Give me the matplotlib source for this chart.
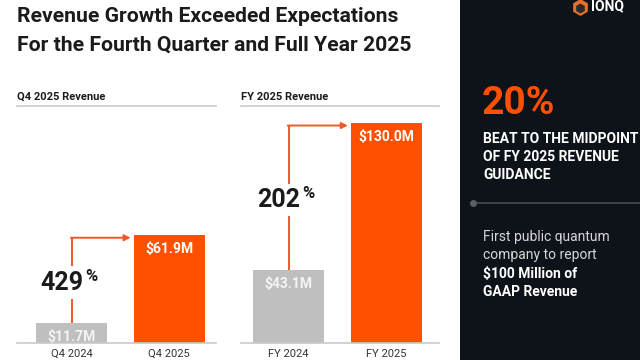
import matplotlib.pyplot as plt
from matplotlib.patches import Rectangle

plt.rcParams["font.family"] = ["Roboto", "DejaVu Sans"]

# data
q4_labels = ["Q4 2024", "Q4 2025"]
q4_values = [11.7, 61.9]
fy_labels = ["FY 2024", "FY 2025"]
fy_values = [43.1, 130.0]

ORANGE = "#fe5000"
ARROW = "#f0582a"
GREY = "#bfbfbf"
DARK = "#0e1319"
INK = "#1b1b1b"

fig = plt.figure(figsize=(6.4, 3.6), dpi=100)
fig.patch.set_facecolor("white")

W, H = 640, 360


def fx(px):
    return px / W


def fy(py):
    return 1 - py / H


# dark side panel
fig.patches.append(Rectangle((fx(460), 0), 1 - fx(460), 1, transform=fig.transFigure,
                             facecolor=DARK, edgecolor="none", zorder=0))

# title
fig.text(fx(17), fy(16), "Revenue Growth Exceeded Expectations", fontsize=15.2,
         fontweight="bold", color=INK, va="center", ha="left")
fig.text(fx(17), fy(45), "For the Fourth Quarter and Full Year 2025", fontsize=15.2,
         fontweight="bold", color=INK, va="center", ha="left")


def revenue_panel(left_px, right_px, header, labels, values, ymax, xlim):
    ax = fig.add_axes([fx(left_px), fy(343), (right_px - left_px) / W, 237 / H])
    ax.set_facecolor("none")
    ax.set_xlim(*xlim)
    ax.set_ylim(0, ymax)
    width = 0.73
    x = [0, 1]
    ax.bar(x, values, width=width, color=[GREY, ORANGE], zorder=2)
    for spine in ("left", "right"):
        ax.spines[spine].set_visible(False)
    for spine in ("top", "bottom"):
        ax.spines[spine].set_color("#c9c9c9")
        ax.spines[spine].set_linewidth(1.2)
    ax.set_yticks([])
    ax.set_xticks(x)
    ax.set_xticklabels(labels, fontsize=8, color="#333333")
    ax.tick_params(axis="x", length=0, pad=4)
    ax.annotate(header, xy=(0, 1), xycoords="axes fraction", xytext=(0, 4),
                textcoords="offset pixels", fontsize=8, fontweight="bold",
                color=INK, va="bottom", ha="left")

    # value labels
    label_colors = ["#f4f4f4", "white"]
    for xi, v, c in zip(x, values, label_colors):
        ax.annotate(f"${v:.1f}M", xy=(xi, v), xytext=(0, -14), textcoords="offset pixels",
                    ha="center", va="center", fontsize=10, fontweight="bold",
                    color=c, zorder=4)

    # growth arrow
    y_top = values[1] - 0.011 * ymax
    ax.plot([x[0], x[0]], [values[0], y_top], color=ARROW, lw=1.4, zorder=1,
            solid_capstyle="butt")
    ax.annotate("", xy=(x[1] - width / 2 - 0.03, y_top), xytext=(x[0] - 0.008, y_top),
                arrowprops=dict(arrowstyle="-|>", color=ARROW, lw=1.4,
                                mutation_scale=9, shrinkA=0, shrinkB=0), zorder=1)
    growth = round((values[1] / values[0] - 1) * 100)
    y_mid = (values[0] + y_top) / 2 - 0.01 * ymax
    ax.text(x[0] + 0.12, y_mid, f"{growth}", ha="right", va="center", fontsize=18,
            fontweight="bold", color=INK, zorder=3,
            bbox=dict(facecolor="white", edgecolor="none", pad=3))
    ax.annotate("%", xy=(x[0] + 0.12, y_mid), xytext=(2, 14), textcoords="offset pixels",
                ha="left", va="top", fontsize=12, fontweight="bold", color=INK, zorder=3)
    return ax


revenue_panel(17, 216, "Q4 2025 Revenue", q4_labels, q4_values, 136, (-0.56, 1.48))
revenue_panel(241, 439, "FY 2025 Revenue", fy_labels, fy_values, 140, (-0.485, 1.535))

# side panel content: logo
fig.add_artist(plt.Line2D([fx(580)], [fy(7)], marker="h", markersize=11, lw=0,
                          color="#e8702a"))
fig.add_artist(plt.Line2D([fx(580)], [fy(7.5)], marker="h", markersize=6, lw=0,
                          color="#2a2a2a"))
fig.text(fx(591), fy(6), "IONQ", fontsize=10, fontweight="bold", color="white",
         va="center", ha="left")

fig.text(fx(482), fy(104), "20%", fontsize=28, fontweight="bold", color=ORANGE,
         va="center", ha="left")
for i, line in enumerate(["BEAT TO THE MIDPOINT", "OF FY 2025 REVENUE", "GUIDANCE"]):
    fig.text(fx(483), fy(139 + 18 * i), line, fontsize=10, fontweight="bold",
             color="white", va="center", ha="left")

fig.add_artist(plt.Line2D([fx(473), 1], [fy(203), fy(203)], color="#474c52", lw=1.2))
fig.add_artist(plt.Line2D([fx(473)], [fy(203)], marker="o", markersize=4,
                          color="#5a5f65", lw=0))

side_lines = [("First public quantum", "normal", "#d6d6d6"),
              ("company to report", "normal", "#d6d6d6"),
              ("$100 Million of", "bold", "white"),
              ("GAAP Revenue", "bold", "white")]
for i, (line, weight, col) in enumerate(side_lines):
    fig.text(fx(483), fy(237 + 18.3 * i), line, fontsize=10, fontweight=weight,
             color=col, va="center", ha="left")

fig.savefig("out.png", dpi=100)
